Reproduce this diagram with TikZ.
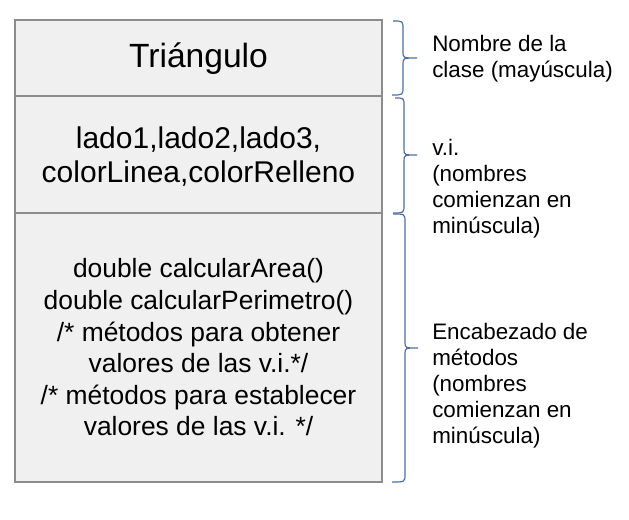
\documentclass[tikz,border=0pt]{standalone}
\usepackage{fontspec}
\setmainfont{Liberation Sans}
\definecolor{boxfill}{HTML}{F0F0F0}
\definecolor{boxline}{HTML}{8C8C8C}
\definecolor{bracecol}{HTML}{4A6FA5}
\begin{document}
\begin{tikzpicture}[x=0.75pt,y=-0.75pt,
  compart/.style={draw=boxline,fill=boxfill,line width=0.8pt,rectangle,
    minimum width=275.25pt,inner sep=0pt},
  boxtext/.style={inner sep=0pt,align=center,text=black},
  note/.style={inner sep=0pt,align=left,anchor=west,text=black,
    font=\fontsize{16.8pt}{19.5pt}\selectfont},
  bracestyle/.style={draw=bracecol,line width=0.9pt}]
\useasboundingbox (0,0) rectangle (629,520);
% compartments
\node[compart,minimum height=57pt] (title) at (198.5,58) {};
\node[compart,minimum height=87.75pt] (attrs) at (198.5,154.5) {};
\node[compart,minimum height=201.75pt] (meths) at (198.5,347.5) {};
% compartment texts
\node[boxtext,font=\fontsize{25.2pt}{30pt}\selectfont] (titletext) at (198.5,58.5) {Triángulo};
\node[boxtext,font=\fontsize{22.5pt}{25.5pt}\selectfont] (attrstext) at (198.5,157) {lado1,lado2,lado3,\\colorLinea,colorRelleno};
\node[boxtext,font=\fontsize{19.8pt}{23.7pt}\selectfont] (methstext) at (198.5,347.5) {double calcularArea()\\double calcularPerimetro()\\/* métodos para obtener\\valores de las v.i.*/\\/* métodos para establecer\\valores de las v.i. */};
% braces
\coordinate (b1) at (417,58);
\coordinate (b2) at (417,155);
\coordinate (b3) at (418,348);
\draw[bracestyle] (393,21) .. controls (403,21) .. (403,29) -- (403,52) .. controls (403,58) .. (b1) .. controls (403,58) .. (403,64) -- (403,87) .. controls (403,95) .. (392,95);
\draw[bracestyle] (395,98) .. controls (404,98) .. (404,106) -- (404,149) .. controls (404,155) .. (b2) .. controls (404,155) .. (404,161) -- (404,205) .. controls (404,213) .. (393,213);
\draw[bracestyle] (393,214) .. controls (405,214) .. (405,222) -- (405,342) .. controls (405,348) .. (b3) .. controls (405,348) .. (405,354) -- (405,474) .. controls (405,482) .. (392,482);
% notes
\node[note] (n1) at (432,59) {Nombre de la\\clase (mayúscula)};
\node[note] (n2) at (432,189) {v.i.\\(nombres\\comienzan en\\minúscula)};
\node[note] (n3) at (432,386) {Encabezado de\\métodos\\(nombres\\comienzan en\\minúscula)};
\end{tikzpicture}
\end{document}
